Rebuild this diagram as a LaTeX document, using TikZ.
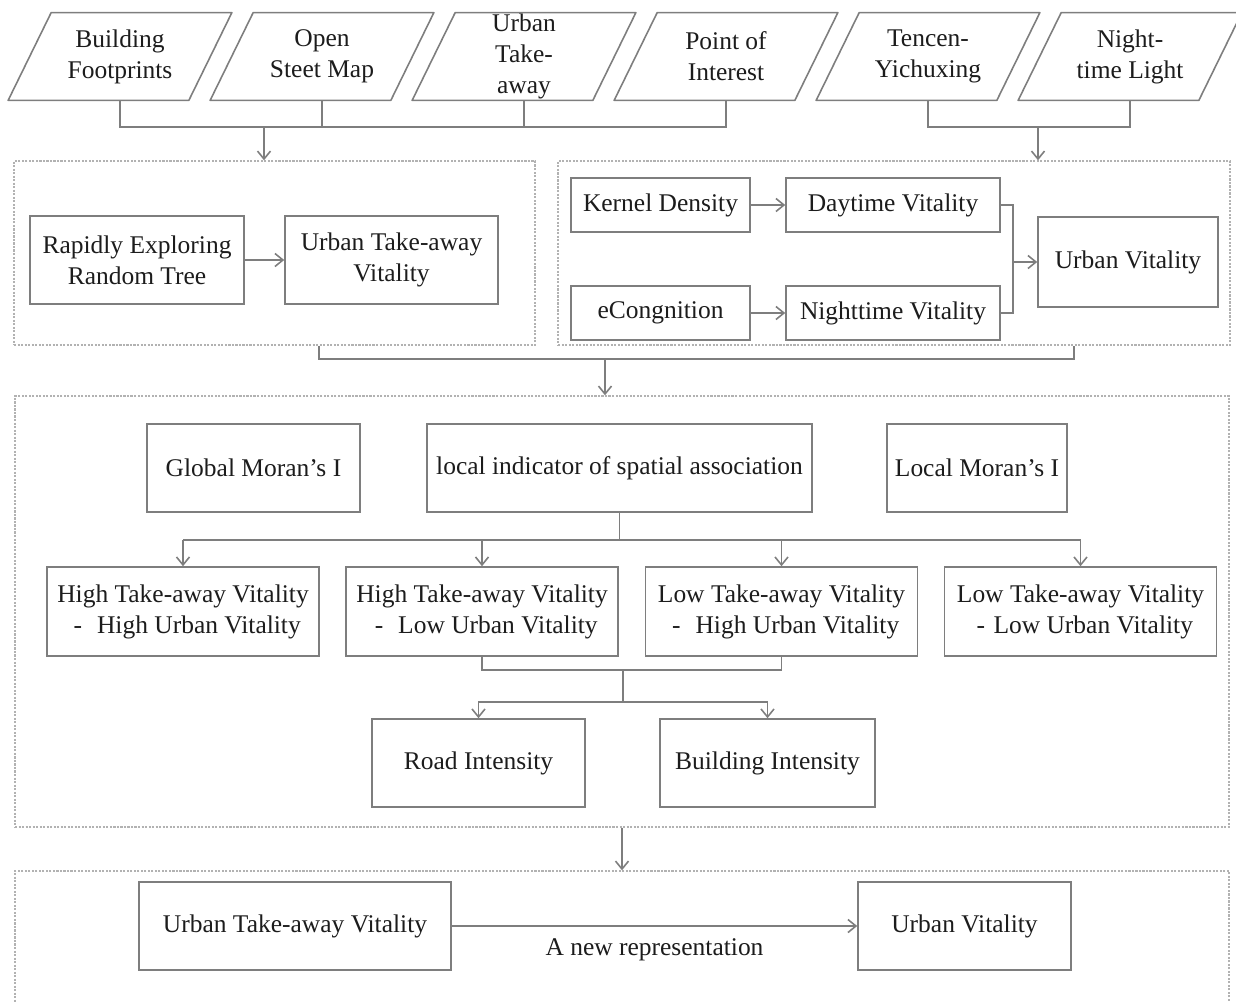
\documentclass[tikz,border=0pt]{standalone}
\usepackage{fontspec}
\setmainfont{Liberation Serif}
\usetikzlibrary{arrows.meta}

\definecolor{linegray}{HTML}{7E7E7E}
\definecolor{framegray}{HTML}{B2B2B2}
\definecolor{textgray}{HTML}{1C1C1C}

\newcount\mycount
\newcommand{\dashbar}{\makebox[1em]{-}}

\tikzset{
  wh/.style 2 args={minimum width=#1*0.2mm, minimum height=#2*0.2mm},
  box/.style={draw=linegray, line width=0.9pt, rectangle, align=center, text=textgray, inner sep=0pt},
  srcbox/.style={rectangle, wh={180}{87}, align=center, text=textgray, inner sep=0pt},
  group/.style={draw=framegray, dash pattern=on 1.2pt off 0.8pt, line width=0.8pt, inner sep=0pt},
  line/.style={draw=linegray, line width=0.9pt},
  arr/.style={line, -{Straight Barb[length=1.6mm, width=2.6mm]}},
}

\begin{document}
\begin{tikzpicture}[x=0.2mm, y=-0.2mm, font=\fontsize{14.5}{17.6}\selectfont]
  \useasboundingbox (0,0) rectangle (1236,1001);

  % data sources
  \foreach \number/\txt in {1/{Building\\Footprints}, 2/{Open\\Steet Map}, 3/{Urban\\Take-\\away},
      4/{Point of\\Interest}, 5/{Tencen-\\Yichuxing}, 6/{Night-\\time Light}}{
    % x position:
    \mycount=\number
    \multiply\mycount by 202
    \advance\mycount by -82
    \node[srcbox] (S-\number) at (\the\mycount,56.5) {\txt};
    % slanted outline
    \draw[line, line join=round] ([xshift=-4.3mm]S-\number.south west) -- ([xshift=4.3mm]S-\number.north west)
      -- ([xshift=4.3mm]S-\number.north east) -- ([xshift=-4.3mm]S-\number.south east) -- cycle;
  }

  % frames
  \node[group, wh={521}{184}] (grpL) at (274.5,253) {};
  \node[group, wh={672}{184}] (grpR) at (894,253) {};
  \node[group, wh={1214}{431}] (grpM) at (622,611.5) {};
  \node[group, wh={1214}{132}] (grpB) at (622,937) {};

  % take-away vitality
  \node[box, wh={214}{88}] (rrt) at (137,260) {Rapidly Exploring\\Random Tree};
  \node[box, wh={213}{88}] (utvA) at (391.5,260) {Urban Take-away\\Vitality};

  % urban vitality
  \node[box, wh={179}{54}] (kd) at (660.5,205) {Kernel Density};
  \node[box, wh={214}{54}] (dayv) at (893,205) {Daytime Vitality};
  \node[box, wh={179}{54}] (ec) at (660.5,313) {eCongnition};
  \node[box, wh={214}{54}] (nightv) at (893,313) {Nighttime Vitality};
  \node[box, wh={180}{90}] (uvA) at (1128,262) {Urban Vitality};

  % spatial analysis
  \node[box, wh={213}{88}] (gmi) at (253.5,468) {Global Moran’s I};
  \node[box, wh={385}{88}] (lisa) at (619.5,468) {local indicator of spatial association};
  \node[box, wh={180}{88}] (lmi) at (977,468) {Local Moran’s I};

  \node[box, wh={272}{89}] (Q-1) at (183,611.5) {High Take-away Vitality\\\dashbar\ High Urban Vitality};
  \node[box, wh={272}{89}] (Q-2) at (482,611.5) {High Take-away Vitality\\\dashbar\ Low Urban Vitality};
  \node[box, wh={272}{89}] (Q-3) at (781.5,611.5) {Low Take-away Vitality\\\dashbar\ High Urban Vitality};
  \node[box, wh={272}{89}] (Q-4) at (1080.5,611.5) {Low Take-away Vitality\\\dashbar Low Urban Vitality};

  \node[box, wh={213}{88}] (road) at (478.5,763) {Road Intensity};
  \node[box, wh={215}{88}] (bld) at (767.5,763) {Building Intensity};

  % result
  \node[box, wh={312}{88}] (utvB) at (295,926) {Urban Take-away Vitality};
  \node[box, wh={213}{88}] (uvB) at (964.5,926) {Urban Vitality};

  % bus points
  \coordinate (busA) at (264,127);
  \coordinate (busR) at (1038,127);
  \coordinate (busC) at (605,359);
  \coordinate (joinV) at (1013,262);
  \coordinate (busE) at (623,670);
  \coordinate (busF) at (623,702);

  % sources to frames
  \draw[line] (S-1.south) |- (busA) -| (S-4.south);
  \foreach \number in {2, 3} {
    \draw[line] (S-\number.south) -- (S-\number |- busA);
  }
  \draw[arr] (busA) -- (busA |- grpL.north);
  \draw[line] (S-5.south) |- (busR) -| (S-6.south);
  \draw[arr] (busR) -- (busR |- grpR.north);

  % inside the frames
  \draw[arr] (rrt) -- (utvA);
  \draw[arr] (kd) -- (dayv);
  \draw[arr] (ec) -- (nightv);
  \draw[line] (dayv.east) -| (joinV) |- (nightv.east);
  \draw[arr] (joinV) -- (uvA);

  % frames to analysis
  \draw[line] (grpL.south -| 319,0) |- (busC) -| (grpR.south -| 1074,0);
  \draw[arr] (busC) -- (busC |- grpM.north);

  \draw[line] (lisa.south) -- ++(0,27) coordinate (busD);
  \draw[line] (Q-1 |- busD) -- (Q-4 |- busD);
  \foreach \number in {1, ..., 4} {
    \draw[arr] (Q-\number |- busD) -- (Q-\number.north);
  }
  \draw[line] (Q-2.south) |- (busE) -| (Q-3.south);
  \draw[line] (busE) -- (busF);
  \draw[arr] (busF) -| (road.north);
  \draw[arr] (busF) -| (bld.north);

  % new representation
  \draw[arr] (grpM.south) -- (grpB.north);
  \draw[arr] (utvB) -- (uvB) node[midway, below=2.3mm, inner sep=0pt, text=textgray] {A new representation};
\end{tikzpicture}
\end{document}
